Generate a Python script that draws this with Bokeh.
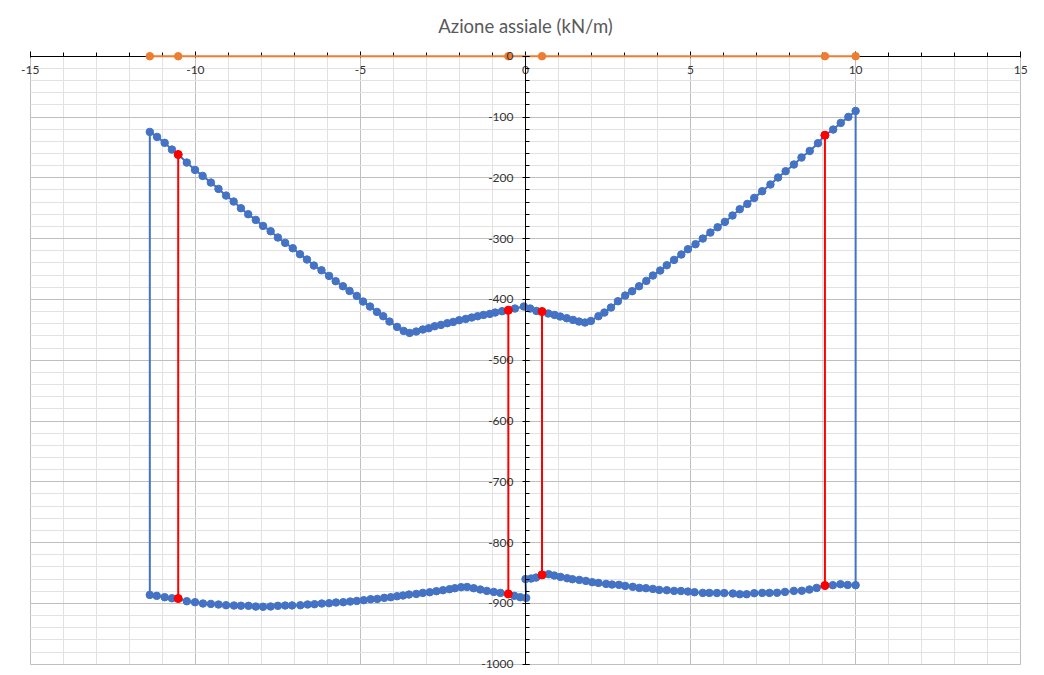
from bokeh.plotting import figure
from bokeh.models import SingleIntervalTicker, Range1d, CustomJSTickFormatter
from bokeh.embed import file_html
from bokeh.resources import INLINE

# ---- data ----
top_x = [-11.38, -11.16, -10.93, -10.71, -10.52, -10.26, -10.01, -9.78, -9.53, -9.30,
         -9.07, -8.84, -8.62, -8.40, -8.17, -7.95, -7.72, -7.50, -7.28, -7.05,
         -6.83, -6.62, -6.41, -6.18, -5.95, -5.75, -5.53, -5.33, -5.11, -4.92,
         -4.71, -4.50, -4.31, -4.12, -3.89, -3.69, -3.51, -3.31, -3.11, -2.93,
         -2.75, -2.56, -2.37, -2.19, -2.01, -1.81, -1.63, -1.45, -1.27, -1.08,
         -0.92, -0.71, -0.52, -0.32, -0.05, 0.14, 0.33, 0.50, 0.69, 0.88,
         1.05, 1.25, 1.44, 1.62, 1.80, 1.98, 2.21, 2.39, 2.59, 2.80,
         3.02, 3.23, 3.44, 3.66, 3.86, 4.08, 4.28, 4.50, 4.72, 4.92,
         5.15, 5.37, 5.60, 5.82, 6.04, 6.27, 6.49, 6.72, 6.93, 7.17,
         7.42, 7.65, 7.88, 8.13, 8.36, 8.61, 8.86, 9.07, 9.32, 9.55,
         9.78, 10.0]
top_y = [-124.5, -132.7, -142.5, -153.5, -161.7, -174.9, -187.0, -196.8, -207.8, -218.2,
         -229.2, -239.0, -250.0, -259.9, -269.2, -279.1, -287.8, -298.2, -307.0, -315.8,
         -325.7, -334.4, -344.3, -352.0, -361.3, -370.0, -378.3, -386.0, -394.2, -403.5,
         -411.7, -420.5, -427.6, -436.4, -445.2, -451.8, -455.1, -452.8, -449.5, -447.4,
         -444.1, -441.9, -439.1, -437.0, -434.2, -432.1, -429.8, -427.6, -425.5, -423.8,
         -421.6, -419.4, -417.8, -415.0, -411.7, -415.0, -418.9, -420.0, -423.2, -425.5,
         -428.1, -430.9, -433.7, -436.4, -438.0, -435.4, -427.6, -421.6, -413.3, -403.0,
         -393.6, -386.5, -378.3, -369.5, -360.7, -352.5, -343.8, -335.0, -326.2, -317.4,
         -309.2, -299.9, -290.0, -281.3, -272.5, -262.0, -251.6, -242.9, -233.0, -222.0,
         -211.0, -199.5, -189.1, -178.1, -166.6, -155.8, -143.1, -129.9, -120.6, -109.7,
         -99.8, -90.0]

bot_left_x = [-11.38, -11.17, -10.93, -10.71, -10.52, -10.26, -10.01, -9.77, -9.53, -9.30,
              -9.07, -8.83, -8.62, -8.39, -8.17, -7.95, -7.72, -7.50, -7.28, -7.07,
              -6.82, -6.60, -6.39, -6.17, -5.95, -5.74, -5.52, -5.31, -5.11, -4.90,
              -4.69, -4.49, -4.28, -4.08, -3.89, -3.71, -3.53, -3.31, -3.11, -2.90,
              -2.70, -2.50, -2.30, -2.14, -1.95, -1.77, -1.57, -1.37, -1.17, -0.96,
              -0.76, -0.52, -0.34, -0.16, 0.02]
bot_left_y = [-886.0, -887.6, -889.8, -891.5, -892.0, -896.4, -898.0, -900.2, -900.8, -901.8,
              -903.0, -903.5, -903.8, -904.0, -905.2, -905.5, -905.1, -904.0, -903.5, -903.3,
              -903.0, -901.8, -901.3, -900.2, -899.7, -898.5, -898.0, -896.9, -895.9, -894.7,
              -893.1, -892.6, -890.9, -889.8, -888.2, -887.0, -885.4, -884.4, -882.7, -881.6,
              -879.9, -878.3, -876.6, -875.0, -873.3, -873.0, -875.0, -877.2, -879.4, -881.1,
              -882.7, -884.4, -887.5, -889.8, -891.0]

bot_right_x = [0.0, 0.17, 0.32, 0.50, 0.70, 0.87, 1.06, 1.26, 1.42, 1.63,
               1.83, 2.02, 2.21, 2.44, 2.62, 2.83, 3.02, 3.25, 3.45, 3.65,
               3.86, 4.05, 4.28, 4.50, 4.71, 4.92, 5.12, 5.37, 5.57, 5.80,
               6.02, 6.28, 6.49, 6.70, 6.93, 7.17, 7.39, 7.62, 7.86, 8.13,
               8.37, 8.60, 8.82, 9.07, 9.31, 9.54, 9.76, 10.0]
bot_right_y = [-860.0, -859.1, -857.5, -853.1, -852.0, -854.1, -856.4, -858.6, -860.2, -861.3,
               -863.0, -865.1, -866.3, -867.9, -869.0, -869.5, -871.2, -872.8, -874.5, -875.0,
               -876.2, -877.8, -878.3, -879.4, -879.6, -880.5, -881.6, -882.7, -882.7, -882.9,
               -883.0, -883.7, -884.9, -884.9, -883.2, -882.7, -882.7, -882.5, -881.1, -879.4,
               -879.2, -877.2, -874.5, -870.6, -870.0, -868.4, -869.6, -870.0]

red_x = [-10.52, -0.52, 0.50, 9.07]
red_top = [-161.7, -417.8, -420.0, -129.9]
red_bottom = [-892.0, -884.4, -853.1, -870.6]

orange_x = [-11.38, -10.52, -0.52, 0.50, 9.07, 10.0]
orange_y = [0, 0, 0, 0, 0, 0]

x_bounds = (-15, 15)
y_bounds = (-1000, 0)

BLUE = "#4472C4"
RED = "#FF0000"
ORANGE = "#ED7D31"
FONT = "Lato"

p = figure(width=1044, height=672, output_backend="svg", toolbar_location=None,
           x_range=Range1d(-15.6, 15.6), y_range=Range1d(-1012, 16),
           min_border_left=10, min_border_right=4, min_border_top=46, min_border_bottom=1,
           title="Azione assiale (kN/m)")
p.title.align = "center"
p.title.text_font = FONT
p.title.text_font_size = "18.5px"
p.title.text_color = "#595959"
p.title.text_font_style = "normal"
p.title.standoff = 20
p.outline_line_color = None
p.background_fill_color = "white"
p.border_fill_color = "white"

fmt = CustomJSTickFormatter(code="return tick.toFixed(0);")
p.xaxis.ticker = SingleIntervalTicker(interval=5, num_minor_ticks=5)
p.yaxis.ticker = SingleIntervalTicker(interval=100, num_minor_ticks=5)
p.xaxis.fixed_location = 0
p.yaxis.fixed_location = 0
p.xaxis.bounds = x_bounds
p.yaxis.bounds = y_bounds

for ax in (p.xaxis, p.yaxis):
    ax.formatter = fmt
    ax.axis_line_color = "black"
    ax.axis_line_width = 1
    ax.major_tick_line_color = "black"
    ax.minor_tick_line_color = "black"
    ax.major_label_text_font = FONT
    ax.major_label_text_font_size = "12px"
    ax.major_label_text_color = "#333333"

p.xaxis.major_tick_in = 5
p.xaxis.major_tick_out = 1
p.xaxis.minor_tick_in = 4
p.xaxis.minor_tick_out = 0
p.xaxis.major_label_standoff = 9

p.yaxis.major_tick_in = 4
p.yaxis.major_tick_out = 3
p.yaxis.minor_tick_in = 4
p.yaxis.minor_tick_out = 0
p.yaxis.major_label_standoff = 9
p.yaxis.level = "overlay"

p.xgrid.bounds = x_bounds
p.xgrid.cross_bounds = y_bounds
p.ygrid.bounds = y_bounds
p.ygrid.cross_bounds = x_bounds
p.xgrid.grid_line_color = "#bfbfbf"
p.xgrid.minor_grid_line_color = "#e2e2e2"
p.ygrid.grid_line_color = "#bfbfbf"
p.ygrid.minor_grid_line_color = "#e2e2e2"

# blue closed contour
loop_x = top_x + bot_right_x[::-1] + bot_left_x[::-1] + [top_x[0]]
loop_y = top_y + bot_right_y[::-1] + bot_left_y[::-1] + [top_y[0]]
p.line(loop_x, loop_y, line_color=BLUE, line_width=2)
p.scatter(top_x + bot_right_x + bot_left_x, top_y + bot_right_y + bot_left_y,
          size=7.5, fill_color=BLUE, line_color=BLUE)

# red verticals
p.segment(x0=red_x, y0=red_top, x1=red_x, y1=red_bottom, line_color=RED, line_width=2)
p.scatter(red_x + red_x, red_top + red_bottom, size=8, fill_color=RED, line_color=RED)

# orange along axis (drawn over the x axis line, under the y axis labels)
p.line(orange_x, orange_y, line_color=ORANGE, line_width=2, level="annotation")
p.scatter(orange_x, orange_y, size=7.5, fill_color=ORANGE, line_color=ORANGE, level="annotation")

open("out.html", "w").write(file_html(p, INLINE))
